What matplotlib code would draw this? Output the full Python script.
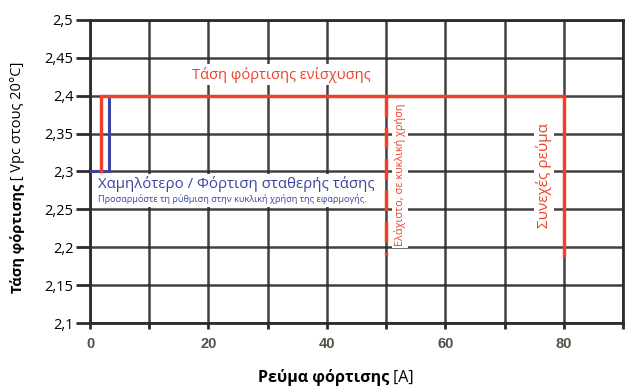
import numpy as np
import matplotlib
matplotlib.use('Agg')
import matplotlib.pyplot as plt

plt.rcParams['font.family'] = ['Open Sans', 'DejaVu Sans']

# --- data ---
x_ticks = [0, 10, 20, 30, 40, 50, 60, 70, 80, 90]
x_labels = ['0', '', '20', '', '40', '', '60', '', '80', '']
y_ticks = [2.1, 2.15, 2.2, 2.25, 2.3, 2.35, 2.4, 2.45, 2.5]
y_labels = ['2,1', '2,15', '2,2', '2,25', '2,3', '2,35', '2,4', '2,45', '2,5']

# boost charge line (red) and float charge line (blue)
red_x = [1.8, 1.8, 80, 80]
red_y = [2.3, 2.4, 2.4, 2.19]
blue_x = [0, 3.2, 3.2]
blue_y = [2.3, 2.3, 2.4]
cyclic_x = [50, 50]
cyclic_y = [2.4, 2.19]

red = '#f0402a'
blue = '#3b45a0'
grid_col = '#2c2c2c'

fig = plt.figure(figsize=(6.26, 3.88), dpi=100)
ax = fig.add_axes([0.1438, 0.1675, 0.8514, 0.781])

ax.set_xlim(0, 90)
ax.set_ylim(2.1, 2.5)
ax.set_xticks(x_ticks)
ax.set_xticklabels(x_labels, family=['Liberation Sans'], fontsize=10.5,
                   color='#555048', fontweight='bold')
ax.set_yticks(y_ticks)
ax.set_yticklabels(y_labels, fontsize=10.5)
ax.tick_params(axis='y', length=10, width=2, color=grid_col, pad=2)
ax.tick_params(axis='x', length=4, width=2, color=grid_col, pad=6)
ax.grid(True, color=grid_col, linewidth=1.8, alpha=0.9)
ax.set_axisbelow(True)
for s in ax.spines.values():
    s.set_color(grid_col)
    s.set_linewidth(2)

ax.plot(blue_x, blue_y, color=blue, lw=2.2, solid_joinstyle='miter', zorder=3)
ax.plot(red_x, red_y, color=red, lw=2.5, solid_joinstyle='miter', zorder=4)
ax.plot(cyclic_x, cyclic_y, color=red, lw=2.5, dashes=(6, 3), zorder=4)

bb = dict(facecolor='white', edgecolor='none', pad=1.5)
ax.text(32.3, 2.428, 'Τάση φόρτισης ενίσχυσης', color=red, fontsize=10.5,
        ha='center', va='center', bbox=bb, zorder=5)
ax.text(1.3, 2.283, 'Χαμηλότερο / Φόρτιση σταθερής τάσης', color=blue,
        fontsize=10.8, ha='left', va='center', bbox=bb, zorder=5)
ax.text(1.3, 2.263, 'Προσαρμόστε τη ρύθμιση στην κυκλική χρήση της εφαρμογής.',
        color=blue, fontsize=6.6, ha='left', va='center', bbox=bb, zorder=5)
ax.text(52.3, 2.296, 'Ελάχιστο, σε κυκλική χρήση', color=red, fontsize=7.8,
        rotation=90, ha='center', va='center', bbox=bb, zorder=5)
ax.text(76.6, 2.295, 'Συνεχές ρεύμα', color=red, fontsize=11,
        rotation=90, ha='center', va='center', bbox=bb, zorder=5)

# axis titles: bold part + normal part
yl = fig.text(0.028, 0.245, 'Τάση φόρτισης', fontsize=10.5, fontweight='bold',
              rotation=90, ha='center', va='bottom')
ax.annotate(' [ Vpc στους 20°C]', xy=(0.5, 1), xycoords=yl, fontsize=10.5,
            rotation=90, ha='center', va='bottom')
xl = fig.text(0.517, 0.016, 'Ρεύμα φόρτισης', fontsize=11.5, fontweight='bold',
              ha='center', va='baseline')
ax.annotate(' [A]', xy=(1, 0), xycoords=xl, fontsize=11.5, ha='left',
            va='bottom')

fig.savefig('out.png', dpi=100)
